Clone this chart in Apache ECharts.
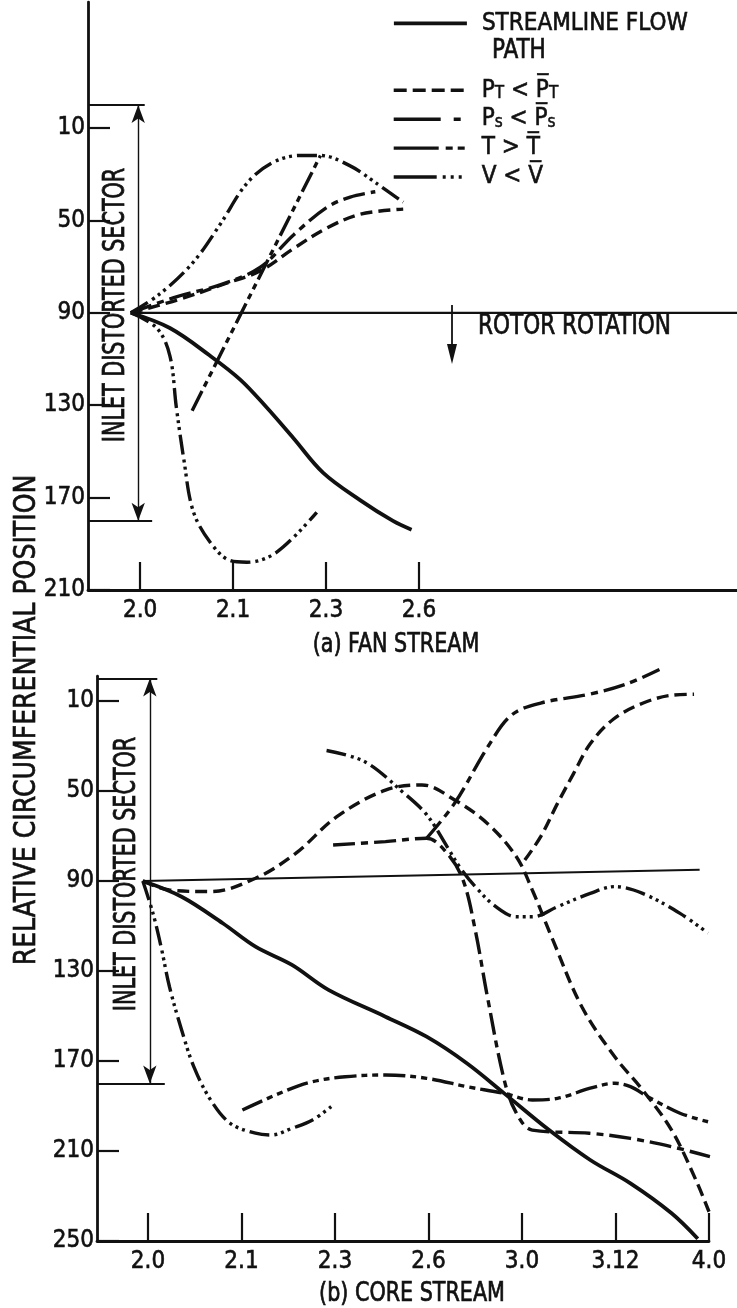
<!DOCTYPE html>
<html><head><meta charset="utf-8">
<script src="https://cdn.jsdelivr.net/npm/echarts@6/dist/echarts.min.js"></script>
<style>html,body{margin:0;padding:0;background:#fff}#c{width:737px;height:1308px}</style>
</head><body><div id="c"></div>
<script>
// ---------- tick labels ----------
const fanStations = ['2.0', '2.1', '2.3', '2.6'];
const coreStations = ['2.0', '2.1', '2.3', '2.6', '3.0', '3.12', '4.0'];
const fanYTicks = [10, 50, 90, 130, 170, 210];
const coreYTicks = [10, 50, 90, 130, 170, 210, 250];
const sectorEdges = [0, 180];

// ---------- (a) fan stream : [station index, circumferential position] ----------
const fanStreamline = [[-0.1,90],[0.32,96.6],[0.75,108.5],[1.08,119],[1.36,130.9],[1.65,144.3],[1.97,159.3],[2.37,171.2],[2.72,180.1],[2.92,183.9]];
const fanPT = [[-0.1,90],[0.39,84.6],[0.93,77.2],[1.29,71.9],[1.65,62.2],[2.01,53.3],[2.37,47.3],[2.83,45.1]];
const fanPS = [[-0.1,90],[0.39,83.1],[0.86,77.9],[1.29,70.4],[1.65,56.3],[2.01,44.3],[2.26,39.9],[2.53,37.6]];
const fanT = [[0.56,132.4],[1.94,21.9]];
const fanVUp = [[-0.1,90],[0.22,81.6],[0.57,68.2],[0.86,51.8],[1.15,33.9],[1.43,24.9],[1.72,21.9],[1.94,21.9],[2.26,26.4],[2.54,33.9],[2.83,42.1]];
const fanVDown = [[-0.1,90],[0.18,96.6],[0.32,108.5],[0.39,130.9],[0.47,153.3],[0.57,175.7],[0.75,189.1],[0.97,197.3],[1.15,198],[1.47,193.6],[1.90,176.4]];
const fanRef = [[-0.1,90],[6.42,90]];

// ---------- (b) core stream ----------
const coreStreamline = [[-0.055,90],[0.36,97],[0.80,108.8],[1.15,119.2],[1.54,127.3],[1.93,138.4],[2.54,150.3],[2.98,159.2],[3.41,171],[3.81,184.4],[4.29,200.7],[4.73,214],[5.16,224.4],[5.60,237.7],[5.88,249]];
const corePT1 = [[-0.055,90],[0.23,94],[0.67,94.7],[1.15,88.8],[1.58,77.7],[2.02,61.4],[2.54,49.6],[2.93,47.3],[3.28,54],[3.63,64.4],[3.94,79.2],[4.11,94],[4.33,116.2],[4.64,145.9],[4.99,168],[5.29,182.9],[5.6,200.7],[5.86,222.9],[6.0,237]];
const corePT2 = [[4.03,80.7],[4.2,70.3],[4.38,55.5],[4.55,42.4],[4.73,29],[4.98,18],[5.29,11],[5.59,7.5],[5.84,7]];
const corePS1 = [[1.98,74],[2.54,72.5],[2.98,71],[3.2,77.7],[3.37,89.6],[3.5,111.8],[3.63,141.4],[3.81,178.4],[3.94,193.2],[4.11,200.7],[4.72,202.1],[5.16,204.4],[5.6,208.1],[6.01,212.5]];
const corePS2 = [[2.98,71],[3.28,55.4],[3.64,30],[3.89,16.2],[4.2,10.9],[4.73,6.9],[5.12,2.4],[5.47,-4]];
const coreT = [[1.01,191.8],[1.45,183.6],[1.76,179.2],[2.11,177],[2.54,176.2],[2.98,177.7],[3.41,181.4],[3.81,184.4],[4.11,187.3],[4.38,186.6],[4.73,182.1],[4.99,179.9],[5.16,181.4],[5.35,186],[5.69,193.2],[5.99,197]];
const coreVTop = [[1.91,32],[2.32,37],[2.72,50.3],[2.98,60.5],[3.2,74.8],[3.33,83.6],[3.5,92.5],[3.72,101.4],[3.94,105.9],[4.11,105.9],[4.38,101.4],[4.73,95.5],[4.99,92.5],[5.29,95.5],[5.69,104.4],[5.99,113.2]];
const coreVDown = [[-0.055,90],[0.054,104.4],[0.14,119.2],[0.23,137],[0.36,156.2],[0.49,172.5],[0.67,187.3],[0.88,197.7],[1.15,202.1],[1.32,202.9],[1.54,199.9],[1.76,196.2],[1.98,189.6]];
const coreRef = [[-0.055,90],[5.9,85]];

const F = '"Liberation Sans Narrow","DejaVu Sans Condensed","Roboto Condensed","Arial Narrow","Liberation Sans",sans-serif';
const INK = '#111';
const DASH = { STREAMLINE: 'solid', PT: [12, 6], PS: [22, 6, 7, 6], T: [22, 5, 6, 5, 6, 5], V: [20, 5, 3, 4, 3, 4, 3, 5] };

function ln(name, data, gi, extra) {
  return Object.assign({
    type: 'line', name: name, data: data, xAxisIndex: gi, yAxisIndex: gi,
    smooth: 0.35, symbol: 'none', clip: false, silent: true, z: 3,
    lineStyle: { color: INK, width: name === 'STREAMLINE' ? 3.8 : 3.4, type: DASH[name], cap: 'butt' },
    itemStyle: { color: INK }
  }, extra || {});
}

const labelInk = { color: INK, textBorderColor: INK, textBorderWidth: 0.6 };
function xAx(gi, min, max, labels) {
  const vals = labels.map((_, i) => i);
  return {
    type: 'value', gridIndex: gi, min: min, max: max,
    axisLine: { show: true, onZero: false, lineStyle: { color: INK, width: 2.8 } },
    axisTick: { show: true, inside: true, length: 28, customValues: vals, lineStyle: { color: INK, width: 2.2 } },
    axisLabel: Object.assign({ show: true, customValues: vals, formatter: v => labels[Math.round(v)], fontSize: 24, fontFamily: F, margin: 9 }, labelInk),
    splitLine: { show: false }
  };
}
function yAx(gi, min, max, ticks) {
  return {
    type: 'value', gridIndex: gi, min: min, max: max, inverse: true,
    axisLine: { show: true, onZero: false, lineStyle: { color: INK, width: 2.8 } },
    axisTick: { show: true, inside: true, length: 22, customValues: ticks, lineStyle: { color: INK, width: 2.2 } },
    axisLabel: Object.assign({ show: true, customValues: ticks, fontSize: 24, fontFamily: F, margin: 3 }, labelInk),
    splitLine: { show: false }
  };
}
function sectorMarks(xmin, xArrow, xTopEnd, xBotEnd) {
  return {
    silent: true, animation: false, label: { show: false }, symbol: 'none',
    emphasis: { disabled: true },
    data: [
      [{ coord: [xArrow, sectorEdges[0]], symbol: 'arrow', symbolSize: [10, 18], lineStyle: { color: INK, width: 1.4, type: 'solid' } },
       { coord: [xArrow, sectorEdges[1]], symbol: 'arrow', symbolSize: [10, 18] }],
      [{ coord: [xmin, sectorEdges[0]], lineStyle: { color: INK, width: 2.2, type: 'solid' } }, { coord: [xTopEnd, sectorEdges[0]] }],
      [{ coord: [xmin, sectorEdges[1]], lineStyle: { color: INK, width: 2.2, type: 'solid' } }, { coord: [xBotEnd, sectorEdges[1]] }]
    ]
  };
}

const FAN_X = [-0.56, 6.42], FAN_Y = [-44.5, 210];
const CORE_X = [-0.545, 6], CORE_Y = [-1, 250];

const legendText = {
  STREAMLINE: '{n|STREAMLINE FLOW}',
  PT: '{n|P}{s|T}{n| < P\u0305}{s|T}',
  PS: '{n|P}{s|s}{n| < P\u0305}{s|s}',
  T: '{n|T > T\u0305}',
  V: '{n|V < V\u0305}'
};
const legendRich = {
  n: { fontSize: 24, fontFamily: F, color: INK, lineHeight: 24, textBorderColor: INK, textBorderWidth: 0.6 },
  s: { fontSize: 17, fontFamily: F, color: INK, lineHeight: 9, verticalAlign: 'bottom', textBorderColor: INK, textBorderWidth: 0.5 }
};
const legendBase = {
  orient: 'vertical', left: 392, padding: 0, itemWidth: 73, itemHeight: 14, selectedMode: false,
  itemStyle: { color: 'rgba(0,0,0,0)', borderColor: 'rgba(0,0,0,0)', borderWidth: 0, opacity: 0 },
  formatter: n => legendText[n],
  textStyle: { rich: legendRich, padding: [0, 0, 0, 10] }
};

const option = {
  backgroundColor: '#fff',
  animation: false,
  grid: [
    { left: 88, top: 2.1, width: 649, height: 587.9 },
    { left: 97, top: 676.25, width: 612, height: 564.75 }
  ],
  xAxis: [xAx(0, FAN_X[0], FAN_X[1], fanStations), xAx(1, CORE_X[0], CORE_X[1], coreStations)],
  yAxis: [yAx(0, FAN_Y[0], FAN_Y[1], fanYTicks), yAx(1, CORE_Y[0], CORE_Y[1], coreYTicks)],
  legend: [
    Object.assign({}, legendBase, { top: 11, data: [{ name: 'STREAMLINE', lineStyle: { color: INK, width: 3.8, type: 'solid' } }] }),
    Object.assign({}, legendBase, { top: 78, itemGap: 4.3, data: [
      { name: 'PT', lineStyle: { color: INK, width: 3.4, type: [13, 6] } },
      { name: 'PS', lineStyle: { color: INK, width: 3.4, type: [47, 13, 7, 20] } },
      { name: 'T', lineStyle: { color: INK, width: 3.4, type: [45, 7, 7, 5, 7, 20] } },
      { name: 'V', lineStyle: { color: INK, width: 3.4, type: [43, 6, 3, 5, 3, 5, 3, 20] } }
    ] })
  ],
  series: [
    { type: 'line', name: 'refA', data: fanRef, xAxisIndex: 0, yAxisIndex: 0, symbol: 'none', silent: true,
      lineStyle: { color: INK, width: 2.2 }, markLine: sectorMarks(FAN_X[0], -0.02, 0.05, 0.13) },
    ln('STREAMLINE', fanStreamline, 0),
    ln('PT', fanPT, 0),
    ln('PS', fanPS, 0),
    ln('T', fanT, 0, { smooth: false }),
    ln('V', fanVUp, 0),
    ln('V', fanVDown, 0),
    { type: 'line', name: 'refB', data: coreRef, xAxisIndex: 1, yAxisIndex: 1, symbol: 'none', silent: true,
      lineStyle: { color: INK, width: 2.2 }, markLine: sectorMarks(CORE_X[0], 0.02, 0.1, 0.18) },
    ln('STREAMLINE', coreStreamline, 1),
    ln('PT', corePT1, 1),
    ln('PT', corePT2, 1),
    ln('PS', corePS1, 1),
    ln('PS', corePS2, 1),
    ln('T', coreT, 1),
    ln('V', coreVTop, 1),
    ln('V', coreVDown, 1)
  ],
  graphic: [
    { type: 'text', x: 27, y: 720, rotation: Math.PI / 2, scaleY: 1.1, style: { text: 'RELATIVE CIRCUMFERENTIAL POSITION', font: '28px ' + F, fill: INK, stroke: INK, lineWidth: 0.6, align: 'center', verticalAlign: 'middle' } },
    { type: 'text', x: 116, y: 305, rotation: Math.PI / 2, scaleY: 1.3, style: { text: 'INLET DISTORTED SECTOR', font: '23px ' + F, fill: INK, stroke: INK, lineWidth: 0.6, align: 'center', verticalAlign: 'middle' } },
    { type: 'text', x: 127, y: 874, rotation: Math.PI / 2, scaleY: 1.3, style: { text: 'INLET DISTORTED SECTOR', font: '23px ' + F, fill: INK, stroke: INK, lineWidth: 0.6, align: 'center', verticalAlign: 'middle' } },
    { type: 'text', x: 478, y: 327, scaleY: 1.15, style: { text: 'ROTOR ROTATION', font: '24px ' + F, fill: INK, stroke: INK, lineWidth: 0.6, align: 'left', verticalAlign: 'middle' } },
    { type: 'line', shape: { x1: 452, y1: 305, x2: 452, y2: 350 }, style: { stroke: INK, lineWidth: 1.8 } },
    { type: 'polygon', shape: { points: [[447, 344], [457, 344], [452, 364]] }, style: { fill: INK } },
    { type: 'text', x: 396, y: 645, scaleY: 1.15, style: { text: '(a) FAN STREAM', font: '23px ' + F, fill: INK, stroke: INK, lineWidth: 0.6, align: 'center', verticalAlign: 'middle' } },
    { type: 'text', x: 412, y: 1294, scaleY: 1.15, style: { text: '(b) CORE STREAM', font: '23px ' + F, fill: INK, stroke: INK, lineWidth: 0.6, align: 'center', verticalAlign: 'middle' } },
    { type: 'text', x: 492, y: 51, scaleY: 1.1, style: { text: 'PATH', font: '24px ' + F, fill: INK, stroke: INK, lineWidth: 0.6, align: 'left', verticalAlign: 'middle' } }
  ]
};

const chart = echarts.init(document.getElementById('c'), null, { renderer: 'canvas' });
chart.setOption(option);
</script>
</body></html>
